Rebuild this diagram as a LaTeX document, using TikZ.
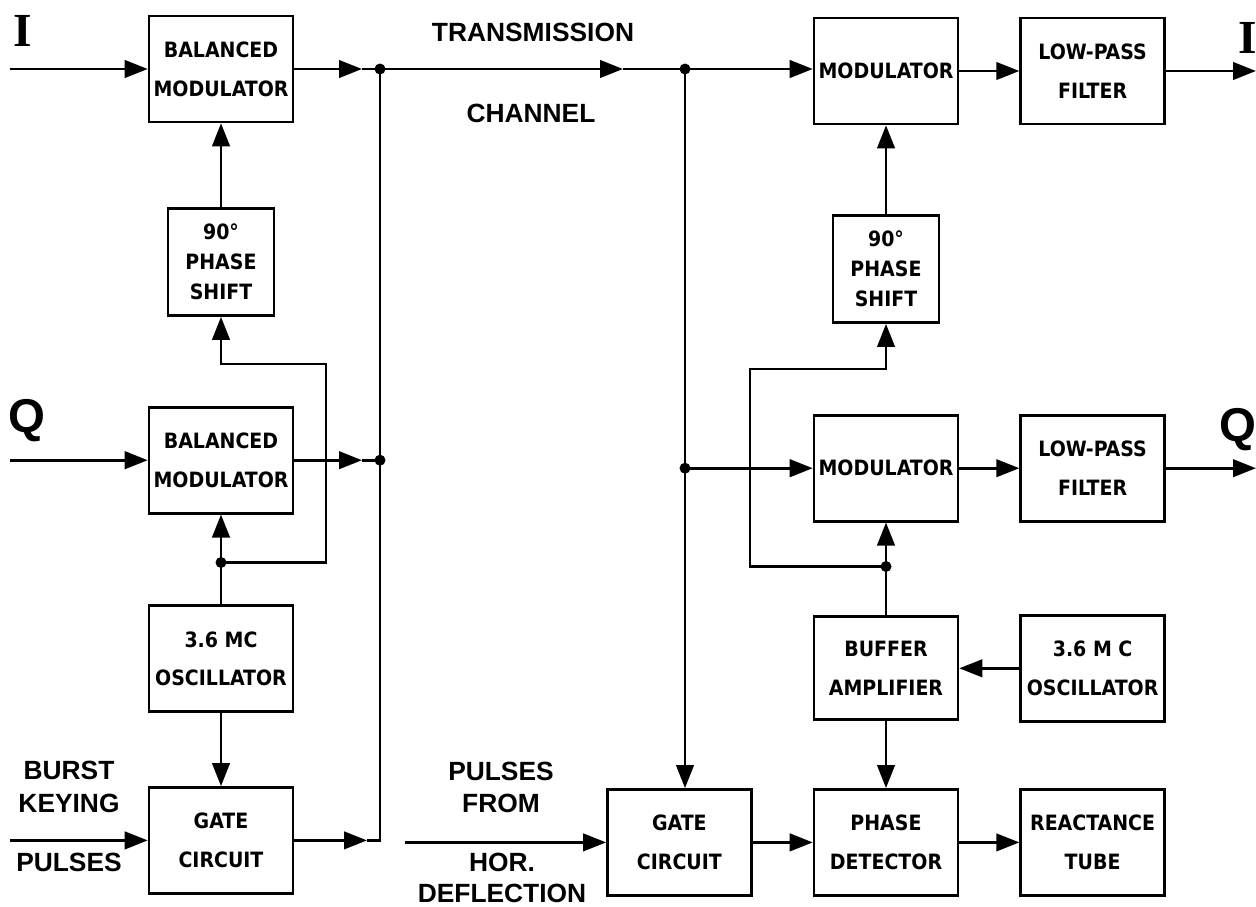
\documentclass[tikz,border=0pt]{standalone}
\usepackage{fontspec}
\newfontfamily\blkfont{DejaVu Sans Condensed}
\newfontfamily\lblfont{Liberation Sans}
\newfontfamily\sigfont{Liberation Serif}
\usetikzlibrary{arrows.meta,positioning}

\begin{document}
\begin{tikzpicture}[x=0.02cm, y=-0.02cm, >={Triangle[length=4.6mm,width=3.5mm]},
  line width=1.5pt, node distance=1.2cm,
  blk/.style={draw, align=center, minimum width=2.88cm, minimum height=2.12cm, inner sep=1pt,
    font=\blkfont\bfseries\fontsize{12}{22}\selectfont},
  nar/.style={blk, minimum width=2.12cm, minimum height=2.14cm, font=\blkfont\bfseries\fontsize{12}{17}\selectfont},
  lbl/.style={font=\lblfont\bfseries\fontsize{15}{18}\selectfont},
  sig/.style={font=\lblfont\bfseries\fontsize{27}{27}\selectfont}]
  \useasboundingbox (0,0) rectangle (1256,906);

  % transmitter
  \node[blk] (bma) at (221,69) {BALANCED\\MODULATOR};
  \node[nar, below=1.68cm of bma] (psa) {90°\\PHASE\\SHIFT};
  \node[blk, below=1.78cm of psa] (bmb) {BALANCED\\MODULATOR};
  \node[blk, below=1.8cm of bmb] (osca) {3.6 MC\\OSCILLATOR};
  \node[blk, below=1.46cm of osca] (gatea) {GATE\\CIRCUIT};

  % receiver
  \node[blk] (moda) at (886,71) {MODULATOR};
  \node[blk, right=of moda] (lpfa) {LOW-PASS\\FILTER};
  \node[nar, below=1.78cm of moda] (psb) {90°\\PHASE\\SHIFT};
  \node[blk, below=1.8cm of psb] (modb) {MODULATOR};
  \node[blk, right=of modb] (lpfb) {LOW-PASS\\FILTER};
  \node[blk, minimum height=2.06cm, below=1.86cm of modb] (buf) {BUFFER\\AMPLIFIER};
  \node[blk, right=of buf] (oscb) {3.6 M C\\OSCILLATOR};
  \node[blk, below=1.34cm of buf] (pd) {PHASE\\DETECTOR};
  \node[blk, right=of pd] (rt) {REACTANCE\\TUBE};
  \node[blk, left=of pd] (gateb) {GATE\\CIRCUIT};

  % labels
  \node[sig, font=\sigfont\bfseries\fontsize{27}{27}\selectfont] (li) at (23,31) {I};
  \node[sig] (lq) at (27,421) {Q};
  \node[sig, font=\sigfont\bfseries\fontsize{27}{27}\selectfont] (ri) at (1248,38) {I};
  \node[sig] (rq) at (1238,430) {Q};
  \node[lbl] (tr) at (533,32) {TRANSMISSION};
  \node[lbl] (ch) at (531,113) {CHANNEL};
  \node[lbl] (bu) at (69,770) {BURST};
  \node[lbl] (ke) at (69,803) {KEYING};
  \node[lbl] (pu) at (69,862) {PULSES};
  \node[lbl] (pf) at (501,771) {PULSES};
  \node[lbl] (fr) at (501,803) {FROM};
  \node[lbl] (ho) at (502,862) {HOR.};
  \node[lbl] (de) at (502,893) {DEFLECTION};

  % free ends, tips and junctions
  \coordinate (xl) at (10,0);
  \coordinate (xp) at (405,0);
  \coordinate (xr) at (1256,0);
  \coordinate (xt) at (362,0);
  \coordinate (xb) at (380,0);
  \coordinate (xk) at (326,0);
  \coordinate (xc) at (685,0);
  \coordinate (xs) at (750,0);
  \coordinate (inI) at (bma -| xl);
  \coordinate (inQ) at (bmb -| xl);
  \coordinate (inB) at (gatea -| xl);
  \coordinate (inP) at (gateb -| xp);
  \coordinate (outI) at (lpfa -| xr);
  \coordinate (outQ) at (lpfb -| xr);
  \coordinate (ta) at (bma -| xt);
  \coordinate (tb) at (bmb -| xt);
  \coordinate (tc) at ([xshift=0.1cm]gatea -| xt);
  \coordinate (cc) at (gatea -| xb);
  \coordinate (ja) at (bma -| xb);
  \coordinate (jb) at (bmb -| xb);
  \coordinate (jc) at ([yshift=-0.96cm]bmb.south);
  \coordinate (ka) at ([yshift=-0.94cm]psa.south -| xk);
  \coordinate (tt) at (bma -| 623,0);
  \coordinate (jr) at (bma -| xc);
  \coordinate (jq) at (modb -| xc);
  \coordinate (jd) at ([yshift=-0.88cm]modb.south);
  \coordinate (kd) at ([yshift=-0.9cm]psb.south -| xs);

  % transmitter connections
  \draw[->] (inI) -- (bma);
  \draw[->] (inQ) -- (bmb);
  \draw[->] (inB) -- (gatea);
  \draw[->] (psa) -- (bma);
  \draw[->] (osca) -- (gatea);
  \draw (osca) -- (jc);
  \draw[->] (jc) -- (bmb);
  \draw[->] (jc) -| (ka) -| (psa);
  \draw[->] (bma) -- (ta);
  \draw (ta) -- (ja);
  \draw[->] (bmb) -- (tb);
  \draw (tb) -- (jb);
  \draw[->] (gatea) -- (tc);
  \draw (tc) -- (cc) -- (ja);

  % channel
  \draw[->] (ja) -- (tt);
  \draw (tt) -- (jr);

  % receiver connections
  \draw[->] (jr) -- (jr -| moda.west);
  \draw[->] (jr) -- (jr |- gateb.north);
  \draw[->] (jq) -- (modb);
  \draw[->] (psb) -- (moda);
  \draw[->] (moda) -- (lpfa);
  \draw[->] (lpfa) -- (outI);
  \draw[->] (modb) -- (lpfb);
  \draw[->] (lpfb) -- (outQ);
  \draw (buf) -- (jd);
  \draw[->] (jd) -- (modb);
  \draw[->] (jd) -| (kd) -| (psb);
  \draw[->] (oscb) -- (buf);
  \draw[->] (buf) -- (pd);
  \draw[->] (inP) -- (gateb);
  \draw[->] (gateb) -- (pd);
  \draw[->] (pd) -- (rt);

  \foreach \j in {ja,jb,jc,jr,jq,jd}{\fill (\j) circle (1.1mm);}
\end{tikzpicture}
\end{document}
